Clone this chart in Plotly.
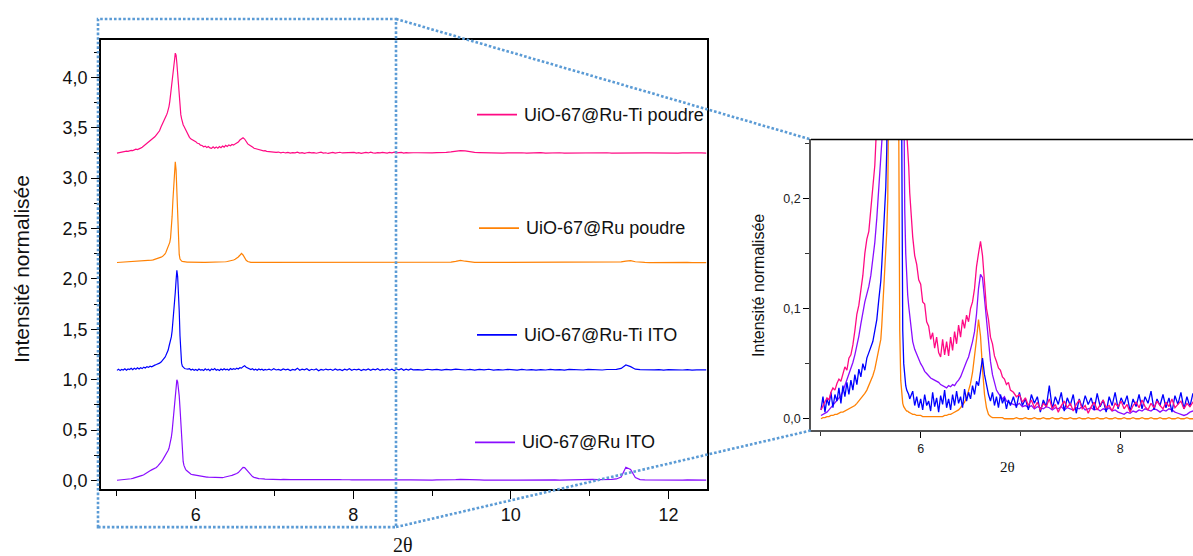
import numpy as np
import plotly.graph_objects as go

# ---------------- data (normalised XRD intensities) -------------
# 2-theta sampling grid, segment by segment (denser around the main reflection)
theta_seg_a = np.round(np.arange(5.00, 5.601, 0.02), 2)   # 31 pts
theta_seg_b = np.round(np.arange(5.61, 5.901, 0.01), 2)   # 30 pts
theta_seg_c = np.round(np.arange(5.92, 6.901, 0.02), 2)   # 50 pts
theta_seg_d = np.round(np.arange(6.93, 8.761, 0.03), 2)   # 62 pts
theta_seg_e = np.round(np.arange(8.82, 12.481, 0.06), 2)  # 62 pts
two_theta = np.concatenate([theta_seg_a, theta_seg_b, theta_seg_c, theta_seg_d, theta_seg_e])

series_names = ["UiO-67@Ru-Ti poudre", "UiO-67@Ru poudre", "UiO-67@Ru-Ti ITO", "UiO-67@Ru ITO"]
series_offsets = [3.24, 2.163, 1.085, 0.0]
series_colors = ["#FF0A84", "#FF8205", "#0000FF", "#8A0DFF"]

ruti_poudre = [
    0.008, 0.012, 0.015, 0.019, 0.017, 0.024, 0.028, 0.026, 0.032, 0.036,
    0.034, 0.042, 0.047, 0.044, 0.055, 0.058, 0.067, 0.08, 0.095, 0.103,
    0.115, 0.13, 0.15, 0.163, 0.17, 0.19, 0.212, 0.23, 0.27, 0.30,
    0.34,
    0.35, 0.37, 0.39, 0.41, 0.43, 0.47, 0.52, 0.58, 0.64, 0.71,
    0.78, 0.86, 0.93, 1.0, 0.98, 0.90, 0.78, 0.65, 0.53, 0.45,
    0.39, 0.35, 0.31, 0.29, 0.275, 0.26, 0.25, 0.229, 0.205, 0.19,
    0.165, 0.148, 0.14, 0.126, 0.122, 0.106, 0.104, 0.088, 0.084, 0.072,
    0.078, 0.064, 0.074, 0.06, 0.056, 0.072, 0.058, 0.07, 0.057, 0.074,
    0.062, 0.079, 0.068, 0.085, 0.074, 0.09, 0.082, 0.094, 0.088, 0.1,
    0.106, 0.118, 0.138, 0.15, 0.161, 0.148, 0.122, 0.1, 0.09, 0.074,
    0.068, 0.057, 0.052, 0.046, 0.044, 0.038, 0.036, 0.031, 0.033, 0.026,
    0.024, 0.02, 0.022, 0.015, 0.019, 0.012, 0.017, 0.01, 0.015, 0.008,
    0.014, 0.011, 0.018, 0.009, 0.013, 0.006, 0.012, 0.016, 0.01, 0.014,
    0.007, 0.013, 0.017, 0.009, 0.012, 0.005, 0.011, 0.015, 0.008, 0.013,
    0.017, 0.01, 0.012, 0.007, 0.014, 0.011, 0.016, 0.009, 0.013, 0.006,
    0.012, 0.015, 0.01, 0.017, 0.011, 0.008, 0.014, 0.01, 0.016, 0.012,
    0.009, 0.015, 0.011, 0.018, 0.01, 0.013, 0.016, 0.009, 0.014, 0.011,
    0.015, 0.012,
    0.012, 0.01, 0.013, 0.011, 0.014, 0.012, 0.016, 0.02, 0.028, 0.034,
    0.03, 0.022, 0.016, 0.014, 0.012, 0.013, 0.01, 0.012, 0.009, 0.011,
    0.013, 0.01, 0.012, 0.009, 0.011, 0.01, 0.013, 0.009, 0.011, 0.01,
    0.012, 0.009, 0.01, 0.011, 0.009, 0.012, 0.01, 0.009, 0.011, 0.01,
    0.012, 0.009, 0.01, 0.011, 0.013, 0.012, 0.01, 0.009, 0.011, 0.01,
    0.009, 0.011, 0.01, 0.008, 0.01, 0.009, 0.011, 0.009, 0.01, 0.008,
    0.01, 0.009,
]

ru_poudre = [
    0.0, 0.001, 0.001, 0.002, 0.002, 0.003, 0.003, 0.004, 0.004, 0.005,
    0.006, 0.006, 0.007, 0.008, 0.009, 0.01, 0.011, 0.012, 0.014, 0.016,
    0.018, 0.02, 0.023, 0.026, 0.03, 0.034, 0.039, 0.045, 0.053, 0.061,
    0.072,
    0.085, 0.10, 0.12, 0.135, 0.15, 0.17, 0.2, 0.245, 0.33, 0.46,
    0.62, 0.8, 0.94, 1.0, 0.92, 0.7, 0.45, 0.22, 0.08, 0.035,
    0.02, 0.014, 0.011, 0.009, 0.008, 0.007, 0.007, 0.006, 0.005, 0.005,
    0.004, 0.004, 0.003, 0.003, 0.003, 0.002, 0.002, 0.002, 0.002, 0.002,
    0.002, 0.002, 0.002, 0.002, 0.002, 0.002, 0.003, 0.003, 0.004, 0.004,
    0.005, 0.006, 0.007, 0.008, 0.01, 0.012, 0.015, 0.019, 0.025, 0.032,
    0.042, 0.055, 0.072, 0.09, 0.075, 0.045, 0.022, 0.01, 0.004, 0.002,
    0.001, 0.001, 0.001, 0.001, 0.001, 0.001, 0.0, 0.0, 0.0, 0.0,
    0.0, 0.001, 0.0, 0.0, 0.001, 0.0, 0.0, 0.001, 0.0, 0.0,
    0.001, 0.0, 0.0, 0.001, 0.0, 0.0, 0.001, 0.0, 0.0, 0.001,
    0.0, 0.0, 0.001, 0.0, 0.0, 0.001, 0.0, 0.0, 0.001, 0.0,
    0.0, 0.001, 0.0, 0.0, 0.001, 0.0, 0.0, 0.001, 0.0, 0.0,
    0.001, 0.0, 0.0, 0.001, 0.0, 0.0, 0.001, 0.0, 0.0, 0.001,
    0.0, 0.0, 0.001, 0.0, 0.0, 0.001, 0.0, 0.0, 0.001, 0.0,
    0.0, 0.001,
    0.0, 0.0, 0.001, 0.0, 0.001, 0.001, 0.002, 0.004, 0.012, 0.022,
    0.013, 0.005, 0.002, 0.001, 0.001, 0.0, 0.001, 0.0, 0.0, 0.001,
    0.0, 0.001, 0.0, 0.0, 0.001, 0.0, 0.001, 0.0, 0.0, 0.001,
    0.0, 0.001, 0.0, 0.001, 0.0, 0.001, 0.001, 0.0, 0.001, 0.0,
    0.001, 0.001, 0.003, 0.006, 0.014, 0.018, 0.008, 0.002, 0.001, 0.0,
    0.001, 0.0, 0.001, 0.0, 0.0, 0.001, 0.0, 0.001, 0.0, 0.0,
    0.001, 0.0,
]

ruti_ito = [
    0.008, 0.02, 0.006, 0.018, 0.012, 0.024, 0.01, 0.022, 0.016, 0.028,
    0.014, 0.03, 0.02, 0.033, 0.022, 0.035, 0.026, 0.04, 0.031, 0.045,
    0.038, 0.05, 0.044, 0.055, 0.06, 0.066, 0.07, 0.08, 0.09, 0.108,
    0.125,
    0.14, 0.155, 0.17, 0.19, 0.21, 0.245, 0.27, 0.30, 0.34, 0.40,
    0.48, 0.58, 0.68, 0.78, 0.9, 1.0, 0.94, 0.8, 0.6, 0.35,
    0.16, 0.08, 0.05, 0.038, 0.03, 0.026, 0.024, 0.022, 0.018, 0.021,
    0.025, 0.012, 0.02, 0.01, 0.018, 0.008, 0.022, 0.012, 0.016, 0.007,
    0.024, 0.011, 0.019, 0.006, 0.021, 0.013, 0.026, 0.01, 0.018, 0.008,
    0.022, 0.012, 0.025, 0.014, 0.02, 0.01, 0.027, 0.016, 0.024, 0.018,
    0.03, 0.022, 0.034, 0.03, 0.045, 0.055, 0.04, 0.03, 0.022, 0.016,
    0.024, 0.012, 0.02, 0.01, 0.022, 0.014, 0.019, 0.009, 0.017, 0.012,
    0.02, 0.01, 0.024, 0.012, 0.018, 0.008, 0.022, 0.014, 0.02, 0.006,
    0.017, 0.011, 0.03, 0.009, 0.02, 0.013, 0.024, 0.007, 0.019, 0.012,
    0.022, 0.005, 0.018, 0.01, 0.021, 0.013, 0.019, 0.008, 0.023, 0.011,
    0.017, 0.006, 0.02, 0.012, 0.024, 0.009, 0.019, 0.013, 0.021, 0.007,
    0.018, 0.011, 0.022, 0.009, 0.02, 0.014, 0.025, 0.008, 0.018, 0.012,
    0.022, 0.01, 0.019, 0.006, 0.021, 0.013, 0.024, 0.009, 0.02, 0.011,
    0.023, 0.014,
    0.016, 0.011, 0.019, 0.013, 0.017, 0.01, 0.018, 0.014, 0.02, 0.016,
    0.012, 0.018, 0.011, 0.017, 0.013, 0.019, 0.01, 0.016, 0.012, 0.018,
    0.014, 0.011, 0.017, 0.012, 0.016, 0.01, 0.015, 0.012, 0.018, 0.013,
    0.016, 0.011, 0.017, 0.013, 0.015, 0.012, 0.018, 0.014, 0.016, 0.012,
    0.017, 0.014, 0.018, 0.028, 0.062, 0.045, 0.02, 0.015, 0.012, 0.016,
    0.013, 0.015, 0.011, 0.016, 0.013, 0.015, 0.012, 0.016, 0.011, 0.014,
    0.012, 0.013,
]

ru_ito = [
    0.003, 0.004, 0.005, 0.006, 0.008, 0.01, 0.012, 0.014, 0.016, 0.018,
    0.021, 0.025, 0.03, 0.035, 0.04, 0.045, 0.051, 0.058, 0.066, 0.075,
    0.086, 0.097, 0.106, 0.113, 0.12, 0.13, 0.145, 0.16, 0.182, 0.205,
    0.23,
    0.24, 0.255, 0.27, 0.285, 0.30, 0.32, 0.35, 0.385, 0.43, 0.49,
    0.57, 0.66, 0.76, 0.86, 0.95, 1.0, 0.98, 0.92, 0.84, 0.72,
    0.56, 0.4, 0.26, 0.19, 0.15, 0.125, 0.112, 0.102, 0.095, 0.088,
    0.07, 0.063, 0.058, 0.055, 0.05, 0.047, 0.043, 0.041, 0.039, 0.037,
    0.036, 0.035, 0.034, 0.033, 0.031, 0.03, 0.029, 0.028, 0.03, 0.029,
    0.031, 0.03, 0.033, 0.035, 0.038, 0.043, 0.048, 0.052, 0.056, 0.062,
    0.07, 0.079, 0.095, 0.118, 0.131, 0.128, 0.11, 0.09, 0.068, 0.052,
    0.04, 0.032, 0.026, 0.023, 0.02, 0.018, 0.02, 0.016, 0.015, 0.014,
    0.013, 0.012, 0.014, 0.011, 0.012, 0.01, 0.012, 0.009, 0.011, 0.01,
    0.009, 0.011, 0.01, 0.008, 0.01, 0.009, 0.011, 0.008, 0.01, 0.009,
    0.008, 0.01, 0.009, 0.011, 0.008, 0.009, 0.01, 0.008, 0.009, 0.007,
    0.009, 0.008, 0.01, 0.007, 0.008, 0.006, 0.005, 0.004, 0.006, 0.005,
    0.007, 0.006, 0.008, 0.007, 0.009, 0.008, 0.007, 0.009, 0.008, 0.006,
    0.008, 0.007, 0.009, 0.008, 0.006, 0.005, 0.004, 0.003, 0.004, 0.006,
    0.007, 0.006,
    0.006, 0.005, 0.006, 0.005, 0.006, 0.005, 0.006, 0.007, 0.009, 0.011,
    0.008, 0.006, 0.005, 0.006, 0.005, 0.006, 0.005, 0.004, 0.005, 0.006,
    0.005, 0.004, 0.005, 0.006, 0.007, 0.006, 0.005, 0.004, 0.005, 0.006,
    0.005, 0.006, 0.007, 0.008, 0.01, 0.013, 0.015, 0.012, 0.009, 0.008,
    0.009, 0.011, 0.016, 0.035, 0.132, 0.11, 0.03, 0.01, 0.007, 0.006,
    0.005, 0.006, 0.005, 0.006, 0.005, 0.004, 0.005, 0.006, 0.005, 0.004,
    0.005, 0.005,
]

series_values = [ruti_poudre, ru_poudre, ruti_ito, ru_ito]
for vals in series_values:
    assert len(vals) == len(two_theta), (len(vals), len(two_theta))

# axis ranges
main_x_range = [4.797, 12.49]
main_y_range = [-0.086, 4.372]
inset_x_range = [4.9, 8.731]
inset_y_range = [-0.0106, 0.2533]

# ---------------- figure ----------------
W, H = 1193, 556
def fx(p):
    return p / W
def fy(p):
    return 1 - p / H

FONT = "Arial, 'Liberation Sans', sans-serif"
SERIF = "'Times New Roman', 'Liberation Serif', serif"

fig = go.Figure()

# main stacked plot (drawn bottom to top)
for idx in [3, 2, 1, 0]:
    fig.add_trace(go.Scatter(
        x=two_theta, y=np.array(series_values[idx]) + series_offsets[idx],
        mode="lines", name=series_names[idx], showlegend=False,
        line=dict(color=series_colors[idx], width=1.2),
        xaxis="x", yaxis="y"))

# inset (no offset)
for idx in [1, 3, 2, 0]:
    fig.add_trace(go.Scatter(
        x=two_theta, y=series_values[idx],
        mode="lines", name=series_names[idx], showlegend=False,
        line=dict(color=series_colors[idx], width=1.3),
        xaxis="x2", yaxis="y2"))

axis_common = dict(showgrid=False, zeroline=False, ticks="outside", tickcolor="black")

fig.update_layout(
    width=W, height=H,
    margin=dict(l=0, r=0, t=0, b=0),
    paper_bgcolor="white", plot_bgcolor="white",
    separators=", ",
    showlegend=False,
    font=dict(family=FONT, color="#111"),
    xaxis=dict(domain=[fx(101), fx(707)], range=main_x_range, anchor="y",
               tick0=0, dtick=2, ticklen=8, tickwidth=1.4,
               showline=True, linecolor="black", linewidth=1.8, mirror=True,
               minor=dict(dtick=1, ticks="outside", ticklen=5, tickwidth=1.4, tickcolor="black"),
               tickfont=dict(family=FONT, size=18, color="#111"), **axis_common),
    yaxis=dict(domain=[fy(491), fy(40)], range=main_y_range, anchor="x",
               tick0=0, dtick=0.5, tickformat=".1f", ticklen=8, tickwidth=1.4,
               showline=True, linecolor="black", linewidth=1.8, mirror=True,
               minor=dict(dtick=0.25, ticks="outside", ticklen=5, tickwidth=1.4, tickcolor="black"),
               tickfont=dict(family=FONT, size=18, color="#111"), **axis_common),
    xaxis2=dict(domain=[fx(811), 1.0], range=inset_x_range, anchor="y2",
                tick0=0, dtick=2, ticklen=6, tickwidth=1.2,
                showline=True, linecolor="#555", linewidth=1.5, mirror=False,
                minor=dict(dtick=1, ticks="outside", ticklen=4, tickwidth=1.2, tickcolor="#333"),
                tickfont=dict(family=FONT, size=12.5, color="#222"), **axis_common),
    yaxis2=dict(domain=[fy(432), fy(140)], range=inset_y_range, anchor="x2",
                tick0=0, dtick=0.1, tickformat=".1f", ticklen=6, tickwidth=1.2,
                showline=True, linecolor="#555", linewidth=1.5, mirror=False,
                minor=dict(dtick=0.05, ticks="outside", ticklen=4, tickwidth=1.2, tickcolor="#333"),
                tickfont=dict(family=FONT, size=12.5, color="#222"), **axis_common),
)

shapes = []
# inset top border
shapes.append(dict(type="line", xref="paper", yref="paper",
                   x0=fx(811), x1=1.0, y0=fy(140), y1=fy(140),
                   line=dict(color="black", width=1.6)))
# dotted zoom box and connectors
dot = dict(color="#5B9BD5", width=2.6, dash="2.6px,2px")
shapes.append(dict(type="rect", xref="paper", yref="paper",
                   x0=fx(98), x1=fx(396), y0=fy(529), y1=fy(19), line=dot))
shapes.append(dict(type="line", xref="paper", yref="paper",
                   x0=fx(396), y0=fy(19), x1=fx(811), y1=fy(140), line=dot))
shapes.append(dict(type="line", xref="paper", yref="paper",
                   x0=fx(396), y0=fy(529), x1=fx(811), y1=fy(432), line=dot))

# legend samples + labels
legend_pos = [(477, 115), (479, 229), (477, 336), (475, 444)]
annotations = []
for (lx, ly), name, col in zip(legend_pos, series_names, series_colors):
    shapes.append(dict(type="line", xref="paper", yref="paper",
                       x0=fx(lx), x1=fx(lx + 40), y0=fy(ly), y1=fy(ly),
                       line=dict(color=col, width=1.8)))
    annotations.append(dict(text=name, xref="paper", yref="paper",
                            x=fx(lx + 45), y=fy(ly), xanchor="left", yanchor="middle",
                            showarrow=False, font=dict(family=FONT, size=18, color="#111")))

# axis titles
annotations.append(dict(text="Intensité normalisée", xref="paper", yref="paper",
                        x=fx(21), y=fy(270), textangle=-90, showarrow=False,
                        xanchor="center", yanchor="middle",
                        font=dict(family=FONT, size=21, color="#111")))
annotations.append(dict(text="2θ", xref="paper", yref="paper",
                        x=fx(403), y=fy(547), showarrow=False,
                        xanchor="center", yanchor="middle",
                        font=dict(family=SERIF, size=20, color="#111")))
annotations.append(dict(text="Intensité normalisée", xref="paper", yref="paper",
                        x=fx(759), y=fy(287), textangle=-90, showarrow=False,
                        xanchor="center", yanchor="middle",
                        font=dict(family=FONT, size=16, color="#111")))
annotations.append(dict(text="2θ", xref="paper", yref="paper",
                        x=fx(1007), y=fy(469), showarrow=False,
                        xanchor="center", yanchor="middle",
                        font=dict(family=SERIF, size=15, color="#111")))

fig.update_layout(shapes=shapes, annotations=annotations)
fig.write_html("out.html",
               config={"displayModeBar": False},
               post_script="document.body.style.margin='0';document.body.style.overflow='hidden';")
